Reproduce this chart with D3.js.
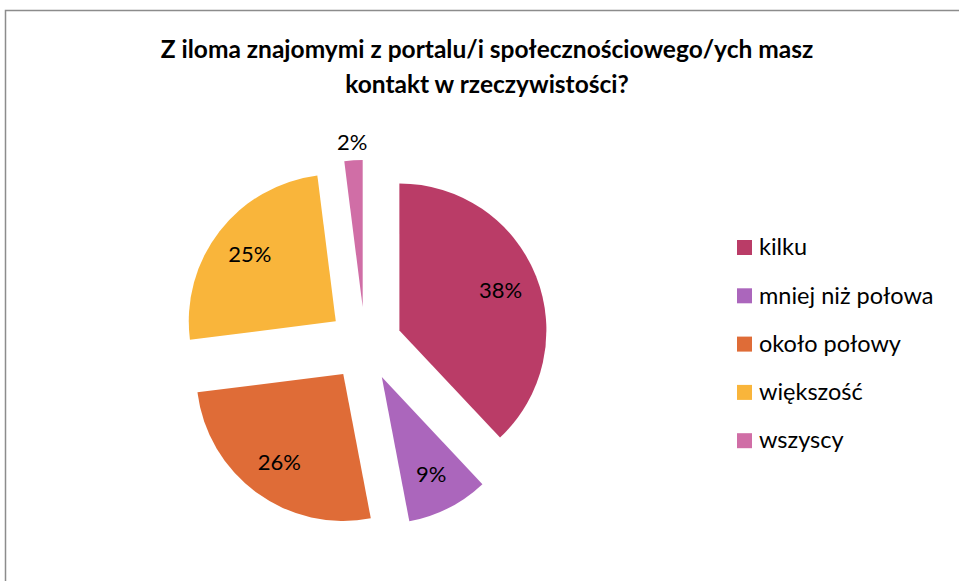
<!DOCTYPE html>
<html>
<head>
<meta charset="utf-8">
<script src="https://cdn.jsdelivr.net/npm/d3@7"></script>
<style>
  body { margin: 0; background: #fff; }
  text { font-family: Lato, "Open Sans", sans-serif; }
</style>
</head>
<body>
<div id="chart"></div>
<script>
var categories = ["kilku", "mniej niż połowa", "około połowy", "większość", "wszyscy"];
var values = [38, 9, 26, 25, 2];
var colors = ["#ba3c67", "#ab66bc", "#df6c37", "#f9b53b", "#d06ea6"];
var titleLines = ["Z iloma znajomymi z portalu/i społecznościowego/ych masz", "kontakt w rzeczywistości?"];

var width = 959,
  height = 581;

var svg = d3.select("#chart")
  .append("svg")
  .attr("width", width)
  .attr("height", height);

// chart frame, only left and top edges show
svg.append("rect")
  .attr("x", 5.5)
  .attr("y", 10.5)
  .attr("width", width + 20)
  .attr("height", height + 20)
  .attr("fill", "none")
  .attr("stroke", "#8c8c8c")
  .attr("stroke-width", 1.5);

svg.append("g")
  .selectAll("text")
  .data(titleLines)
  .enter().append("text")
  .attr("x", 487)
  .attr("y", function(d, i) { return 58 + i * 35; })
  .attr("text-anchor", "middle")
  .attr("font-size", 24.5)
  .attr("font-weight", "bold")
  .attr("fill", "#000")
  .text(function(d) { return d; });

var data = categories.map(function(c, i) {
  return { name: c, value: values[i], color: colors[i] };
});

var cx = 365, cy = 344, radius = 147, explode = 37;

var pie = d3.pie()
  .sort(null)
  .value(function(d) { return d.value; });

var arc = d3.arc().innerRadius(0).outerRadius(radius);

var arcs = pie(data);

function offset(d, dist) {
  var a = (d.startAngle + d.endAngle) / 2;
  return [Math.sin(a) * dist, -Math.cos(a) * dist];
}

var g = svg.append("g")
  .attr("transform", "translate(" + cx + "," + cy + ")");

g.selectAll(".slice")
  .data(arcs)
  .enter().append("path")
  .attr("class", "slice")
  .attr("d", arc)
  .attr("fill", function(d) { return d.data.color; })
  .attr("transform", function(d) {
    var o = offset(d, explode);
    return "translate(" + o[0] + "," + o[1] + ")";
  });

g.selectAll(".lbl")
  .data(arcs)
  .enter().append("text")
  .attr("class", "lbl")
  .attr("transform", function(d) {
    var small = d.data.value < 5;
    var o = offset(d, small ? explode + radius + 18 : explode + radius * 0.74);
    return "translate(" + o[0] + "," + o[1] + ")";
  })
  .attr("text-anchor", "middle")
  .attr("dy", "0.35em")
  .attr("font-size", 22)
  .attr("fill", "#000")
  .text(function(d) { return d.data.value + "%"; });

var legend = svg.append("g")
  .attr("transform", "translate(737,247)");

var item = legend.selectAll(".item")
  .data(data)
  .enter().append("g")
  .attr("class", "item")
  .attr("transform", function(d, i) { return "translate(0," + (i * 48.3) + ")"; });

item.append("rect")
  .attr("x", 0)
  .attr("y", -7)
  .attr("width", 15)
  .attr("height", 15)
  .attr("fill", function(d) { return d.color; });

item.append("text")
  .attr("x", 22)
  .attr("dy", "0.35em")
  .attr("font-size", 23.5)
  .attr("fill", "#000")
  .text(function(d) { return d.name; });
</script>
</body>
</html>
